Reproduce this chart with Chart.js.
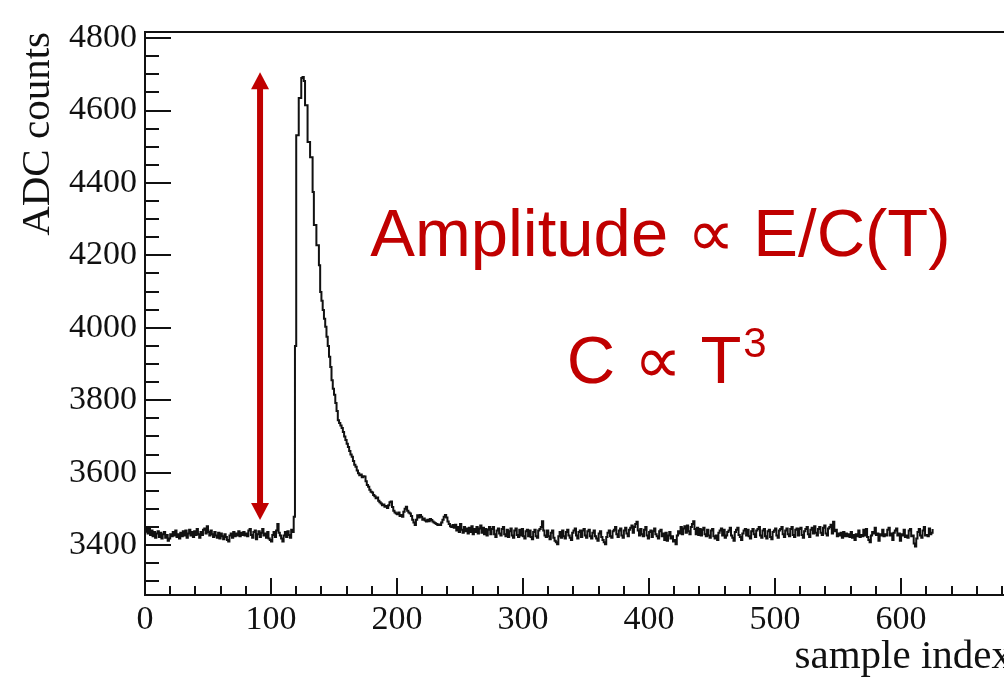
<!DOCTYPE html>
<html>
<head>
<meta charset="utf-8">
<script src="https://cdn.jsdelivr.net/npm/chart.js@4.4.0/dist/chart.umd.min.js"></script>
<style>
    html, body { margin: 0; padding: 0; overflow: hidden; background: #fff; }
</style>
</head>
<body>
<canvas id="grafico-adc" width="1020" height="682"></canvas>
<script>
// cuentas ADC por muestra (muestras 0 - 118, linea base antes del pulso)
var adcAntes = [
    3437, 3447, 3432, 3446, 3428, 3440, 3424, 3436, 3420, 3432,
    3438, 3422, 3434, 3418, 3430, 3436, 3420, 3428, 3412, 3418,
    3430, 3424, 3436, 3426, 3440, 3422, 3430, 3418, 3434, 3424,
    3438, 3426, 3440, 3420, 3432, 3442, 3426, 3436, 3422, 3438,
    3428, 3444, 3430, 3420, 3436, 3428, 3442, 3446, 3432, 3452,
    3436, 3426, 3440, 3430, 3422, 3436, 3426, 3420, 3434, 3418,
    3432, 3424, 3416, 3430, 3422, 3414, 3410, 3426, 3432, 3420,
    3436, 3424, 3432, 3426, 3438, 3424, 3434, 3428, 3436, 3426,
    3432, 3424, 3440, 3444, 3428, 3420, 3436, 3440, 3416, 3430,
    3438, 3422, 3434, 3444, 3426, 3432, 3420, 3436, 3418, 3414,
    3410, 3428, 3436, 3422, 3440, 3458, 3434, 3426, 3418, 3410,
    3426, 3436, 3422, 3438, 3428, 3420, 3442, 3436, 3478
];
// muestras 119 - 245 (subida, pico y caida)
var adcPulso = [
    3950, 4532, 4532, 4635, 4635, 4690, 4693, 4682, 4615, 4615,
    4513, 4513, 4471, 4471, 4375, 4284, 4284, 4228, 4228, 4173,
    4099, 4075, 4049, 4025, 4003, 3975, 3950, 3920, 3892, 3855,
    3832, 3815, 3792, 3770, 3745, 3737, 3730, 3723, 3712, 3700,
    3690, 3680, 3671, 3660, 3650, 3644, 3632, 3622, 3616, 3606,
    3598, 3593, 3595, 3587, 3590, 3589, 3576, 3566, 3561, 3553,
    3547, 3545, 3538, 3535, 3529, 3531, 3522, 3518, 3515, 3510,
    3512, 3506, 3508, 3502, 3510, 3518, 3520, 3505, 3495, 3490,
    3487, 3485, 3490, 3480, 3483, 3478, 3492, 3500, 3506, 3495,
    3490, 3487, 3480, 3470, 3462, 3455, 3470, 3482, 3476, 3483,
    3478, 3470, 3473, 3468, 3465, 3470, 3466, 3472, 3469, 3465,
    3462, 3460, 3458, 3455, 3457, 3455, 3462, 3470, 3478, 3483,
    3476, 3465, 3458, 3452, 3450, 3455, 3448
];
// muestras 246 - 625 (cola)
var adcCola = [
    3456, 3440, 3450, 3436, 3458, 3442, 3434, 3450, 3438, 3446,
    3432, 3448, 3436, 3452, 3430, 3444, 3436, 3450, 3432, 3446,
    3454, 3434, 3448, 3430, 3444, 3426, 3442, 3450, 3430, 3444,
    3450, 3430, 3422, 3440, 3446, 3432, 3426, 3444, 3450, 3430,
    3424, 3442, 3422, 3438, 3446, 3426, 3420, 3440, 3446, 3428,
    3422, 3442, 3426, 3444, 3424, 3418, 3438, 3442, 3424, 3440,
    3422, 3416, 3436, 3442, 3424, 3420, 3440, 3444, 3450, 3466,
    3440, 3426, 3422, 3440, 3424, 3416, 3434, 3440, 3420, 3412,
    3408, 3402, 3424, 3436, 3420, 3440, 3424, 3418, 3436, 3442,
    3426, 3420, 3414, 3434, 3440, 3446, 3426, 3418, 3436, 3440,
    3422, 3440, 3444, 3426, 3420, 3438, 3442, 3424, 3418, 3434,
    3440, 3424, 3418, 3412, 3432, 3438, 3422, 3414, 3408, 3402,
    3422, 3434, 3440, 3424, 3420, 3438, 3442, 3450, 3430, 3422,
    3440, 3446, 3426, 3420, 3440, 3448, 3432, 3424, 3442, 3448,
    3454, 3434, 3450, 3458, 3464, 3440, 3426, 3444, 3430, 3424,
    3442, 3450, 3426, 3418, 3436, 3440, 3422, 3438, 3446, 3430,
    3424, 3418, 3438, 3442, 3424, 3432, 3414, 3434, 3412, 3426,
    3436, 3418, 3424, 3410, 3414, 3402, 3426, 3438, 3432, 3450,
    3430, 3446, 3452, 3434, 3454, 3438, 3430, 3450, 3458, 3466,
    3444, 3430, 3448, 3428, 3444, 3426, 3442, 3448, 3430, 3424,
    3442, 3426, 3420, 3440, 3444, 3424, 3418, 3426, 3414, 3434,
    3440, 3446, 3426, 3442, 3420, 3426, 3436, 3440, 3448, 3426,
    3420, 3412, 3436, 3442, 3448, 3428, 3422, 3414, 3432, 3440,
    3444, 3426, 3442, 3424, 3418, 3438, 3444, 3430, 3422, 3440,
    3444, 3450, 3426, 3420, 3440, 3444, 3424, 3418, 3438, 3442,
    3422, 3416, 3436, 3440, 3446, 3426, 3420, 3440, 3444, 3450,
    3430, 3422, 3440, 3446, 3430, 3424, 3444, 3450, 3428, 3422,
    3442, 3446, 3426, 3444, 3448, 3428, 3420, 3438, 3444, 3450,
    3430, 3422, 3442, 3448, 3432, 3452, 3434, 3426, 3444, 3450,
    3434, 3428, 3448, 3454, 3432, 3426, 3446, 3450, 3456, 3432,
    3464, 3438, 3442, 3424, 3432, 3426, 3434, 3420, 3436, 3424,
    3432, 3424, 3430, 3422, 3436, 3420, 3428, 3414, 3430, 3424,
    3440, 3422, 3428, 3424, 3442, 3426, 3444, 3422, 3414, 3408,
    3426, 3436, 3432, 3448, 3428, 3432, 3412, 3430, 3426, 3442,
    3424, 3430, 3426, 3442, 3448, 3426, 3432, 3414, 3434, 3440,
    3446, 3426, 3432, 3412, 3430, 3426, 3442, 3422, 3426, 3420,
    3440, 3444, 3424, 3426, 3404, 3396, 3418, 3436, 3444, 3426,
    3420, 3440, 3450, 3426, 3428, 3424, 3446, 3430, 3434, 3444
];

var ticksX = [0, 100, 200, 300, 400, 500, 600];
var ticksY = [3400, 3600, 3800, 4000, 4200, 4400, 4600, 4800];

// flecha de amplitud (en unidades de datos)
var flechaMuestra = 91.3;
var flechaArriba = 4706;
var flechaAbajo = 3469;

var cuentasAdc = adcAntes.concat(adcPulso, adcCola);
var puntos = [];
for (var i = 0; i < cuentasAdc.length; i++) {
    puntos.push({ x: i, y: cuentasAdc[i] });
}

var fuenteRoot = "'Liberation Serif', 'Times New Roman', serif";
var rojo = '#C00000';

// marco y ticks hacia adentro, estilo ROOT
var marcoRoot = {
    id: 'marcoRoot',
    afterDatasetsDraw: function (chart) {
        var ctx = chart.ctx;
        var a = chart.chartArea;
        var x = chart.scales.x;
        var y = chart.scales.y;
        ctx.save();
        ctx.strokeStyle = '#111';
        ctx.lineWidth = 2;
        ctx.strokeRect(a.left, a.top, a.right - a.left, a.bottom - a.top);
        ctx.beginPath();
        for (var v = 0; v <= x.max; v += 20) {
            var px = Math.round(x.getPixelForValue(v));
            var largo = (v % 100 === 0) ? 17 : 9;
            ctx.moveTo(px, a.bottom);
            ctx.lineTo(px, a.bottom - largo);
        }
        for (var w = Math.ceil(y.min / 50) * 50; w <= y.max; w += 50) {
            var py = Math.round(y.getPixelForValue(w));
            var largoY = (w % 200 === 0) ? 26 : 14;
            ctx.moveTo(a.left, py);
            ctx.lineTo(a.left + largoY, py);
        }
        ctx.stroke();
        ctx.restore();
    },
    afterDraw: function (chart) {
        var ctx = chart.ctx;
        var x = chart.scales.x;
        var y = chart.scales.y;
        ctx.save();
        // flecha doble
        var xa = x.getPixelForValue(flechaMuestra);
        var yt = y.getPixelForValue(flechaArriba);
        var yb = y.getPixelForValue(flechaAbajo);
        ctx.strokeStyle = rojo;
        ctx.fillStyle = rojo;
        ctx.lineWidth = 6;
        ctx.beginPath();
        ctx.moveTo(xa, yt + 14);
        ctx.lineTo(xa, yb - 14);
        ctx.stroke();
        ctx.beginPath();
        ctx.moveTo(xa, yt);
        ctx.lineTo(xa - 9, yt + 17);
        ctx.lineTo(xa + 9, yt + 17);
        ctx.closePath();
        ctx.fill();
        ctx.beginPath();
        ctx.moveTo(xa, yb);
        ctx.lineTo(xa - 9, yb - 17);
        ctx.lineTo(xa + 9, yb - 17);
        ctx.closePath();
        ctx.fill();

        // textos
        ctx.textBaseline = 'alphabetic';
        ctx.font = "67px 'Liberation Sans', Arial, sans-serif";
        ctx.textAlign = 'center';
        ctx.fillText('Amplitude \u221D E/C(T)', x.getPixelForValue(409), y.getPixelForValue(4198));

        var base = "C \u221D T";
        var w1 = ctx.measureText(base).width;
        ctx.font = "42px 'Liberation Sans', Arial, sans-serif";
        var w2 = ctx.measureText('3').width;
        var inicio = x.getPixelForValue(414) - (w1 + w2 + 2) / 2;
        var lineaBase = y.getPixelForValue(3847);
        ctx.textAlign = 'left';
        ctx.font = "67px 'Liberation Sans', Arial, sans-serif";
        ctx.fillText(base, inicio, lineaBase);
        ctx.font = "42px 'Liberation Sans', Arial, sans-serif";
        ctx.fillText('3', inicio + w1 + 2, lineaBase - 26);
        ctx.restore();
    }
};

const ctx = document.getElementById('grafico-adc');
var myChart = new Chart(ctx, {
    type: 'line',
    data: {
        datasets: [{
            label: 'ADC counts',
            data: puntos,
            borderColor: '#111',
            borderWidth: 2,
            pointRadius: 0,
            stepped: true,
            fill: false
        }]
    },
    options: {
        responsive: false,
        animation: false,
        layout: { padding: { left: 0, top: 32, right: 8, bottom: 0 } },
        plugins: {
            legend: { display: false },
            tooltip: { enabled: false }
        },
        scales: {
            x: {
                type: 'linear',
                min: 0,
                max: 688,
                afterBuildTicks: function (scale) {
                    scale.ticks = ticksX.map(function (v) { return { value: v }; });
                },
                afterFit: function (scale) { scale.height = 87; },
                grid: { display: false, drawTicks: false },
                border: { display: false },
                ticks: {
                    padding: 5,
                    color: '#111',
                    font: { family: fuenteRoot, size: 34 },
                    maxRotation: 0,
                    callback: function (v) { return String(v); }
                },
                title: {
                    display: true,
                    text: 'sample index',
                    align: 'end',
                    color: '#111',
                    font: { family: fuenteRoot, size: 41 },
                    padding: { top: 0, bottom: 0 }
                }
            },
            y: {
                min: 3262,
                max: 4817,
                afterBuildTicks: function (scale) {
                    scale.ticks = ticksY.map(function (v) { return { value: v }; });
                },
                afterFit: function (scale) { scale.width = 145; },
                grid: { display: false, drawTicks: false },
                border: { display: false },
                ticks: {
                    padding: 8,
                    color: '#111',
                    font: { family: fuenteRoot, size: 34 },
                    callback: function (v) { return String(v); }
                },
                title: {
                    display: true,
                    text: 'ADC counts',
                    align: 'end',
                    color: '#111',
                    font: { family: fuenteRoot, size: 41 },
                    padding: { top: 14, bottom: 0 }
                }
            }
        }
    },
    plugins: [marcoRoot]
});
</script>
</body>
</html>
